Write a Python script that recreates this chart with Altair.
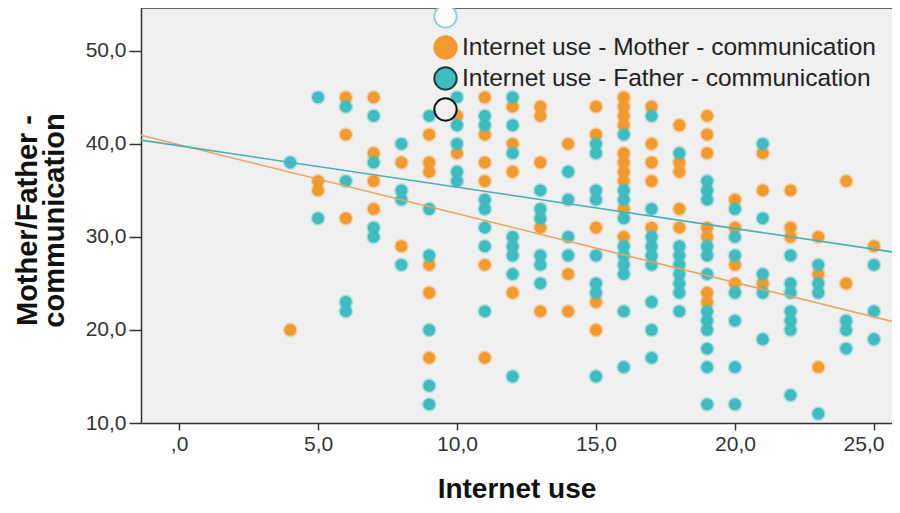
import altair as alt
import pandas as pd

# ---- data ----
mother_x = [4, 5, 5, 6, 6, 6, 7, 7, 7, 7, 8, 8,
            9, 9, 9, 9, 9, 9, 10, 10,
            11, 11, 11, 11, 11, 11, 12, 12, 12, 12,
            13, 13, 13, 13, 13, 14, 14, 14,
            15, 15, 15, 15, 15,
            16, 16, 16, 16, 16, 16, 16, 16, 16, 16,
            17, 17, 17, 17, 17, 18, 18, 18, 18, 18,
            19, 19, 19, 19, 19, 19, 19, 20, 20, 20, 20,
            21, 21, 21, 22, 22, 22, 23, 23, 23, 24, 24, 25]
mother_y = [20, 36, 35, 45, 41, 32, 45, 39, 36, 33, 38, 29,
            41, 38, 37, 27, 24, 17, 43, 39,
            45, 41, 38, 36, 27, 17, 44, 40, 37, 24,
            44, 43, 38, 31, 22, 40, 26, 22,
            44, 41, 31, 23, 20,
            45, 44, 43, 42, 39, 38, 37, 36, 33, 30,
            44, 40, 38, 36, 31, 42, 38, 37, 33, 31,
            43, 41, 39, 31, 30, 24, 23, 34, 31, 27, 25,
            39, 35, 25, 35, 31, 30, 30, 26, 16, 36, 25, 29]

father_x = [4, 5, 5, 6, 6, 6, 6, 7, 7, 7, 7, 8, 8, 8, 8,
            9, 9, 9, 9, 9, 9, 10, 10, 10, 10, 10,
            11, 11, 11, 11, 11, 11, 11,
            12, 12, 12, 12, 12, 12, 12, 12,
            13, 13, 13, 13, 13, 13, 14, 14, 14, 14,
            15, 15, 15, 15, 15, 15, 15, 15,
            16, 16, 16, 16, 16, 16, 16, 16, 16, 16,
            17, 17, 17, 17, 17, 17, 17, 17, 17,
            18, 18, 18, 18, 18, 18, 18, 18,
            19, 19, 19, 19, 19, 19, 19, 19, 19, 19, 19, 19,
            20, 20, 20, 20, 20, 20, 20,
            21, 21, 21, 21, 21, 22, 22, 22, 22, 22, 22, 22,
            23, 23, 23, 23, 24, 24, 24, 25, 25, 25]
father_y = [38, 45, 32, 44, 36, 23, 22, 43, 38, 31, 30, 40, 35, 34, 27,
            43, 33, 28, 20, 14, 12, 45, 42, 40, 37, 36,
            43, 42, 34, 33, 31, 29, 22,
            45, 42, 39, 30, 29, 28, 26, 15,
            35, 33, 32, 28, 27, 25, 37, 34, 30, 28,
            40, 39, 35, 34, 28, 25, 24, 15,
            41, 35, 34, 32, 29, 28, 27, 26, 22, 16,
            43, 33, 30, 29, 28, 27, 23, 20, 17,
            39, 29, 28, 27, 26, 25, 24, 22,
            36, 35, 34, 29, 28, 26, 22, 21, 20, 18, 16, 12,
            33, 30, 28, 24, 21, 16, 12,
            40, 32, 26, 24, 19, 28, 25, 24, 22, 21, 20, 13,
            27, 25, 24, 11, 21, 20, 18, 27, 22, 19]

fit_x = [-1.37, 25.94]
mother_fit = [40.93, 20.7]
father_fit = [40.4, 28.26]

legend_series = [" ", "Internet use - Mother - communication",
                 "Internet use - Father - communication", "  "]

x_ticks = [0, 5, 10, 15, 20, 25]
y_ticks = [10, 20, 30, 40, 50]

ORANGE = "#f39a2e"
TEAL = "#3fbcc1"

W, H = 751, 415
XDOM = [-1.37, 25.65]
YDOM = [10, 54.6]

mother_df = pd.DataFrame({"x": mother_x, "y": mother_y})
father_df = pd.DataFrame({"x": father_x, "y": father_y})
mfit_df = pd.DataFrame({"x": fit_x, "y": mother_fit})
ffit_df = pd.DataFrame({"x": fit_x, "y": father_fit})
leg_df = pd.DataFrame({"series": legend_series})

comma_expr = "datum.value == 0 ? ',0' : replace(format(datum.value, '.1f'), '.', ',')"

xscale = alt.Scale(domain=XDOM, nice=False, zero=False)
yscale = alt.Scale(domain=YDOM, nice=False, zero=False)

last_tick = "datum.value == 25"
xaxis = alt.Axis(values=x_ticks, labelExpr=comma_expr, tickSize=7, labelPadding=3,
                 labelAlign={"condition": {"test": last_tick, "value": "right"}, "value": "center"},
                 labelOffset={"condition": {"test": last_tick, "value": 10}, "value": 0},
                 title="Internet use", titleFontSize=28, titleFontWeight="bold",
                 titleY=66, titleBaseline="middle", titleColor="#111", grid=False)
yaxis = alt.Axis(values=y_ticks, labelExpr=comma_expr, tickSize=12, labelPadding=3,
                 title=["Mother/Father -", "communication"], titleFontSize=29,
                 titleFontWeight="bold", titleAngle=270, titleX=-114, titleY=212,
                 titleAlign="center", titleBaseline="middle", titleLineHeight=27,
                 titleColor="#111", grid=False)

base_x = alt.X("x:Q", scale=xscale, axis=xaxis)
base_y = alt.Y("y:Q", scale=yscale, axis=yaxis)

mother_pts = alt.Chart(mother_df).mark_circle(
    size=140, opacity=1, stroke=ORANGE, strokeOpacity=0.35, strokeWidth=3, color=ORANGE
).encode(x=base_x, y=base_y)

father_pts = alt.Chart(father_df).mark_circle(
    size=140, opacity=1, stroke=TEAL, strokeOpacity=0.35, strokeWidth=3, color=TEAL
).encode(x=alt.X("x:Q", scale=xscale), y=alt.Y("y:Q", scale=yscale))

mfit = alt.Chart(mfit_df).mark_line(color="#eba45a", strokeWidth=1.6, clip=True).encode(
    x=alt.X("x:Q", scale=xscale), y=alt.Y("y:Q", scale=yscale))
ffit = alt.Chart(ffit_df).mark_line(color="#4aaeb5", strokeWidth=1.6, clip=True).encode(
    x=alt.X("x:Q", scale=xscale), y=alt.Y("y:Q", scale=yscale))

top_border = alt.Chart(leg_df.head(1)).mark_rule(color="#333", strokeWidth=1.5).encode(
    x=alt.value(0), x2=alt.value(W), y=alt.value(0))

legend = alt.Legend(orient="none", legendX=292, legendY=-4, title=None,
                    symbolSize=500, symbolStrokeWidth=2, labelFontSize=24.5,
                    labelFont="Liberation Sans", labelColor="#222", rowPadding=0,
                    labelOffset=4, padding=0, labelLimit=700,
                    labelExpr="indexof(datum.label, 'Internet') < 0 ? '' : datum.label")

leg_layer = alt.Chart(leg_df).mark_point(filled=True, opacity=1, clip=True, size=500).encode(
    x=alt.value(-300), y=alt.value(-300),
    fill=alt.Fill("series:N", sort=legend_series,
                  scale=alt.Scale(domain=legend_series,
                                  range=["#ffffff", ORANGE, TEAL, "#f0f0f0"]),
                  legend=legend),
    stroke=alt.Stroke("series:N", sort=legend_series,
                      scale=alt.Scale(domain=legend_series,
                                      range=["#8fd3d6", ORANGE, "#1f3b40", "#111111"]),
                      legend=legend),
)

chart = alt.layer(mother_pts, father_pts, mfit, ffit, top_border, leg_layer).properties(
    width=W, height=H,
    autosize=alt.AutoSizeParams(type="none"),
    padding={"left": 133, "top": 0, "right": 0, "bottom": 82},
    background="white",
).configure_view(fill="#f0f0f0", stroke=None).configure_axis(
    domainColor="#333", domainWidth=1.5, tickColor="#333", tickWidth=1.5,
    labelColor="#333", labelFont="Liberation Sans", labelFontSize=21,
    titleFont="Liberation Sans",
)

chart.save("out.html", embed_options={"renderer": "svg", "actions": False})
